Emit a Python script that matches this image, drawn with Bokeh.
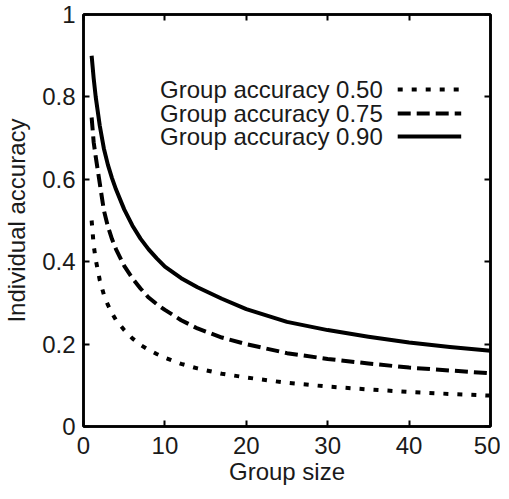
from bokeh.plotting import figure
from bokeh.models import LinearAxis, Label, Range1d, FixedTicker
from bokeh.embed import file_html
from bokeh.resources import INLINE

# ---- data ----
group_size = [1, 1.25, 1.5, 2, 2.5, 3, 3.5, 4, 5, 6, 7, 8, 9, 10, 12, 14, 17, 20, 25, 30, 35, 40, 45, 50]
acc_050 = [0.50, 0.44, 0.405, 0.355, 0.32, 0.295, 0.275, 0.258, 0.234, 0.214, 0.198, 0.186, 0.176,
           0.167, 0.152, 0.141, 0.128, 0.119, 0.106, 0.097, 0.090, 0.084, 0.079, 0.075]
acc_075 = [0.75, 0.69, 0.655, 0.59, 0.525, 0.485, 0.455, 0.43, 0.39, 0.36, 0.335, 0.313, 0.297,
           0.283, 0.258, 0.238, 0.216, 0.200, 0.178, 0.164, 0.153, 0.143, 0.136, 0.129]
acc_090 = [0.90, 0.845, 0.80, 0.73, 0.675, 0.635, 0.603, 0.575, 0.527, 0.488, 0.456, 0.430, 0.408,
           0.388, 0.360, 0.338, 0.310, 0.285, 0.254, 0.234, 0.218, 0.204, 0.193, 0.184]
series_labels = ["Group accuracy 0.50", "Group accuracy 0.75", "Group accuracy 0.90"]
x_ticks = [0, 10, 20, 30, 40, 50]
x_tick_labels = ["0", "10", "20", "30", "40", "50"]
y_ticks = [0, 0.2, 0.4, 0.6, 0.8, 1]
y_tick_labels = ["0", "0.2", "0.4", "0.6", "0.8", "1"]

FONT = "Liberation Sans"
FS = "24px"
TXT = "#1a1a1a"

p = figure(width=500, height=491, x_range=Range1d(0, 50), y_range=Range1d(0, 1),
           output_backend="svg", toolbar_location=None,
           min_border_left=78, min_border_right=10, min_border_top=14, min_border_bottom=65)
p.grid.visible = False
p.background_fill_color = "white"
p.border_fill_color = "white"
p.outline_line_color = "black"
p.outline_line_width = 2.5


def style_axis(ax, ticks, labels, show_labels=True):
    ax.ticker = FixedTicker(ticks=ticks)
    ax.major_label_overrides = {float(t): l for t, l in zip(ticks, labels)}
    ax.major_tick_in = 6
    ax.major_tick_out = 0
    ax.minor_tick_in = 0
    ax.minor_tick_out = 0
    ax.axis_line_color = "black"
    ax.axis_line_width = 2.5
    ax.major_tick_line_width = 2
    ax.major_tick_line_color = "black"
    ax.major_label_text_font = FONT
    ax.major_label_text_color = TXT
    ax.axis_label_text_font = FONT
    ax.axis_label_text_font_style = "normal"
    ax.axis_label_text_font_size = FS
    ax.axis_label_text_color = TXT
    if show_labels:
        ax.major_label_text_font_size = FS
    else:
        ax.major_label_text_font_size = "0px"
        ax.major_label_standoff = 0


xa = p.xaxis[0]
ya = p.yaxis[0]
style_axis(xa, x_ticks, x_tick_labels)
style_axis(ya, y_ticks, y_tick_labels)
xa.axis_label = "Group size"
ya.axis_label = "Individual accuracy"
xa.major_label_standoff = 10
xa.axis_label_standoff = 1
ya.major_label_standoff = 8
ya.axis_label_standoff = 9

top = LinearAxis()
right = LinearAxis()
style_axis(top, x_ticks, ["" for _ in x_ticks], show_labels=False)
style_axis(right, y_ticks, ["" for _ in y_ticks], show_labels=False)
p.add_layout(top, "above")
p.add_layout(right, "right")

styles = [dict(line_dash="5 9"), dict(line_dash="13 6"), dict(line_dash="solid")]
series = [acc_050, acc_075, acc_090]
LW = 4

for ys, st in zip(series, styles):
    p.line(group_size, ys, line_color="black", line_width=LW, line_cap="butt",
           line_join="round", **st)

# legend: label on the left, sample line on the right
leg_y = [0.818, 0.760, 0.704]
for lab, ly, st in zip(series_labels, leg_y, styles):
    p.add_layout(Label(x=36.77, y=ly, text=lab, text_align="right", text_baseline="middle",
                       text_font=FONT, text_font_size=FS, text_color=TXT))
    p.line([38.6, 46.4], [ly, ly], line_color="black", line_width=LW, line_cap="butt", **st)

open("out.html", "w").write(file_html(p, INLINE))
